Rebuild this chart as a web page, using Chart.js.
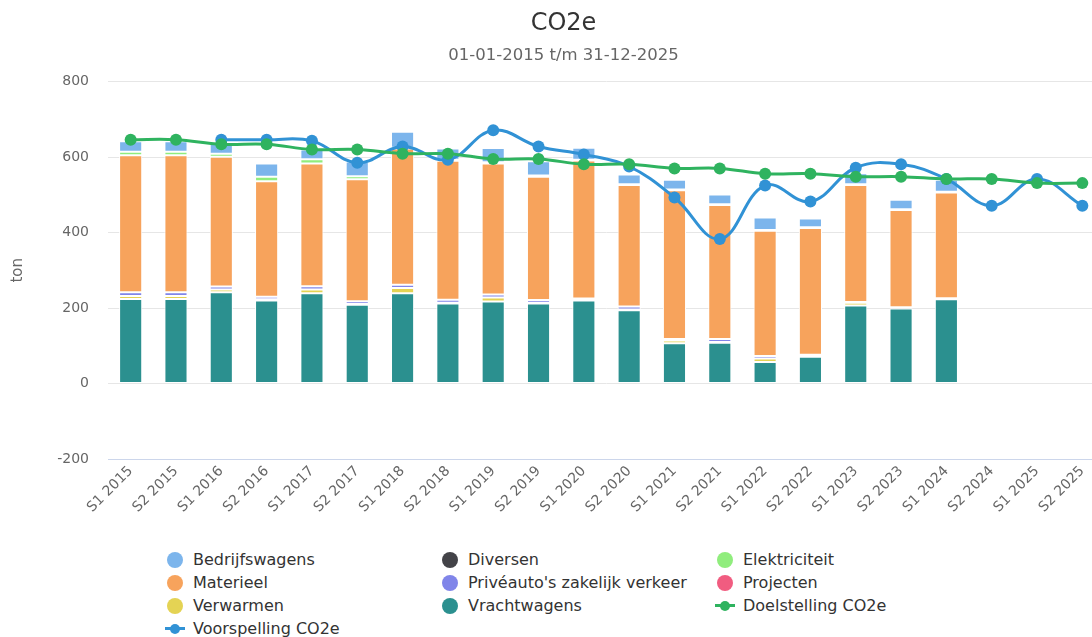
<!DOCTYPE html>
<html lang="nl">
<head>
<meta charset="utf-8">
<title>CO2e</title>
<script src="https://cdn.jsdelivr.net/npm/chart.js@4/dist/chart.umd.min.js"></script>
<style>
  html, body { margin: 0; padding: 0; overflow: hidden; background: #fff; }
  #wrap { position: relative; width: 1126px; height: 637px; }
  #grafiek { position: absolute; left: 0; top: 0; }
  #legenda {
    position: absolute; left: 163px; top: 548px;
    display: grid; grid-template-columns: 275px 275px 275px; grid-auto-rows: 23px;
    font-family: "DejaVu Sans", sans-serif; font-size: 16px; color: #333;
  }
  .item { display: flex; align-items: center; white-space: nowrap; }
  .mark { position: relative; width: 24px; height: 23px; margin-right: 6px; flex: none; }
  .mark .bol { position: absolute; left: 4px; top: 3.5px; width: 16px; height: 16px; border-radius: 50%; }
  .mark .lijn { position: absolute; left: 2px; top: 10px; width: 20px; height: 3px; }
  .mark .punt { position: absolute; left: 7px; top: 6.5px; width: 10px; height: 10px; border-radius: 50%; }
</style>
</head>
<body>
<div id="wrap">
  <canvas id="grafiek" width="1126" height="545"></canvas>
  <div id="legenda"></div>
</div>
<script>
// Halfjaren S1/S2 2015 t/m 2025
const labels = ['S1 2015', 'S2 2015', 'S1 2016', 'S2 2016', 'S1 2017', 'S2 2017', 'S1 2018', 'S2 2018',
  'S1 2019', 'S2 2019', 'S1 2020', 'S2 2020', 'S1 2021', 'S2 2021', 'S1 2022', 'S2 2022',
  'S1 2023', 'S2 2023', 'S1 2024', 'S2 2024', 'S1 2025', 'S2 2025'];

// uitstoot per bron (ton), laatste drie halfjaren nog leeg
const vrachtwagens   = [224, 224, 242, 220, 239, 209, 239, 212, 217, 212, 220, 194, 107, 108, 57, 71, 207, 199, 223, null, null, null];
const verwarmen      = [8, 8, 7, 3, 10, 2, 14, 2, 11, 2, 2, 2, 7, 2, 9, 2, 7, 1, 2, null, null, null];
const projecten      = [0, 0, 0, 0, 0, 0, 0, 0, 0, 0, 0, 0, 0, 0, 0, 0, 0, 0, 0, null, null, null];
const priveauto      = [10, 10, 8, 7, 9, 7, 9, 8, 8, 7, 3, 8, 4, 8, 7, 3, 2, 2, 1, null, null, null];
const materieel      = [363, 363, 344, 306, 325, 323, 361, 368, 347, 327, 366, 322, 394, 355, 332, 336, 310, 258, 280, null, null, null];
const elektriciteit  = [9, 9, 8, 12, 11, 8, 2, 3, 3, 3, 2, 2, 2, 2, 2, 2, 2, 2, 2, null, null, null];
const diversen       = [0, 0, 0, 0, 0, 0, 0, 0, 0, 0, 0, 0, 0, 0, 0, 0, 0, 0, 0, null, null, null];
const bedrijfswagens = [28, 28, 27, 35, 26, 39, 42, 30, 38, 38, 32, 26, 26, 26, 33, 23, 29, 25, 32, null, null, null];

const doelstelling = [646, 646, 634, 634, 620, 620, 609, 609, 595, 595, 581, 581, 570, 570, 556, 556, 548, 548, 542, 542, 531, 531];
const voorspelling = [null, null, 646, 646, 643, 585, 628, 593, 671, 628, 607, 575, 493, 383, 525, 482, 572, 581, 542, 471, 542, 471];

const yTicks = [-200, 0, 200, 400, 600, 800];

// volgorde van de legenda (zoals in het origineel)
const legendaVolgorde = ['Bedrijfswagens', 'Diversen', 'Elektriciteit', 'Materieel', "Privéauto's zakelijk verkeer",
  'Projecten', 'Verwarmen', 'Vrachtwagens', 'Doelstelling CO2e', 'Voorspelling CO2e'];

const FONT = '"DejaVu Sans", sans-serif';

function balk(label, data, kleur) {
  return {
    type: 'bar', label, data, backgroundColor: kleur,
    borderColor: '#ffffff', borderWidth: 1, borderSkipped: false,
    stack: 'bronnen', order: 2,
    barPercentage: 1, categoryPercentage: 0.51
  };
}

function lijn(label, data, kleur, stack) {
  return {
    type: 'line', label, data, borderColor: kleur, backgroundColor: kleur,
    borderWidth: 3, pointRadius: 6, pointBorderWidth: 0, pointHoverRadius: 6,
    tension: 0.4, fill: false, stack, order: 0
  };
}

// onderste segment eerst
const datasets = [
  balk('Vrachtwagens', vrachtwagens, '#2b908f'),
  balk('Verwarmen', verwarmen, '#e4d354'),
  balk('Projecten', projecten, '#f15c80'),
  balk("Privéauto's zakelijk verkeer", priveauto, '#8085e9'),
  balk('Materieel', materieel, '#f7a35c'),
  balk('Elektriciteit', elektriciteit, '#90ed7d'),
  balk('Diversen', diversen, '#434348'),
  balk('Bedrijfswagens', bedrijfswagens, '#7cb5ec'),
  lijn('Doelstelling CO2e', doelstelling, '#2fb35f', 'doel'),
  lijn('Voorspelling CO2e', voorspelling, '#3192d5', 'voorspelling')
];

const ctx = document.getElementById('grafiek').getContext('2d');
const chart = new Chart(ctx, {
  data: { labels, datasets },
  options: {
    responsive: false,
    animation: false,
    events: [],
    layout: { padding: { left: 22, right: 21, top: 0, bottom: 0 } },
    plugins: {
      legend: { display: false },
      tooltip: { enabled: false },
      title: {
        display: true, text: 'CO2e', color: '#333333',
        font: { family: FONT, size: 24, weight: 'normal' },
        padding: { top: 9, bottom: 0 }
      },
      subtitle: {
        display: true, text: '01-01-2015 t/m 31-12-2025', color: '#666666',
        font: { family: FONT, size: 16.5, weight: 'normal' },
        padding: { top: 8, bottom: 16 }
      }
    },
    scales: {
      x: {
        stacked: true,
        grid: { display: false, drawTicks: false },
        border: { display: true, color: '#ccd6eb', width: 1 },
        ticks: {
          color: '#666666', font: { family: FONT, size: 14 },
          minRotation: 45, maxRotation: 45, padding: 4, autoSkip: false
        },
        afterFit: s => { s.height = 86; }
      },
      y: {
        stacked: true,
        min: -200, max: 800,
        afterBuildTicks: s => { s.ticks = yTicks.map(v => ({ value: v })); },
        grid: { color: '#e6e6e6', drawTicks: false },
        border: { display: false },
        ticks: { color: '#666666', font: { family: FONT, size: 14 }, padding: 19 },
        title: {
          display: true, text: 'ton', color: '#666666',
          font: { family: FONT, size: 15 }, padding: { top: -13, bottom: 0 }
        },
        afterFit: s => { s.width = 86; }
      }
    }
  }
});

// HTML-legenda in drie kolommen
const legenda = document.getElementById('legenda');
legendaVolgorde.forEach(naam => {
  const ds = chart.data.datasets.find(d => d.label === naam);
  const item = document.createElement('div');
  item.className = 'item';
  const mark = document.createElement('span');
  mark.className = 'mark';
  if (ds.type === 'line') {
    mark.innerHTML = `<span class="lijn" style="background:${ds.borderColor}"></span><span class="punt" style="background:${ds.borderColor}"></span>`;
  } else {
    mark.innerHTML = `<span class="bol" style="background:${ds.backgroundColor}"></span>`;
  }
  const tekst = document.createElement('span');
  tekst.textContent = naam;
  item.appendChild(mark);
  item.appendChild(tekst);
  legenda.appendChild(item);
});
</script>
</body>
</html>
